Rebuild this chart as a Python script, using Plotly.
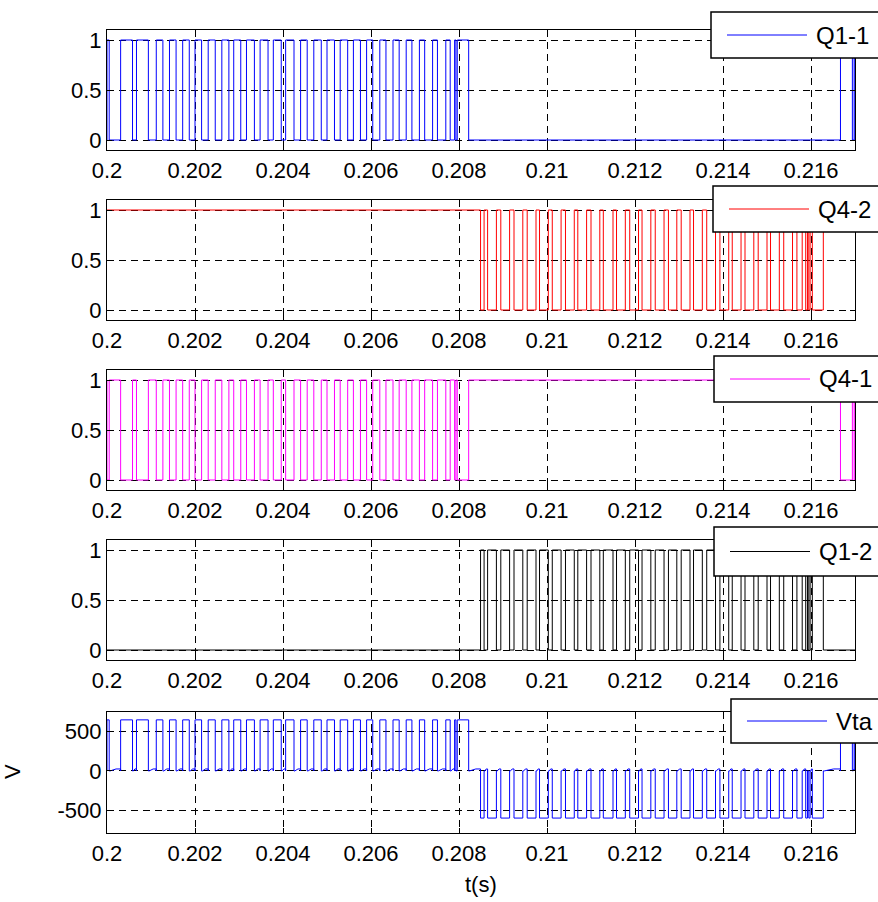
import plotly.graph_objects as go

# ---------------- data ----------------
t_start, t_end = 0.200, 0.217
x_tickvals = [0.200, 0.202, 0.204, 0.206, 0.208, 0.210, 0.212, 0.214, 0.216]
x_ticktext = ["0.2", "0.202", "0.204", "0.206", "0.208", "0.21", "0.212", "0.214", "0.216"]
y_tickvals_gate = [0, 0.5, 1]
y_ticktext_gate = ["0", "0.5", "1"]
y_tickvals_v = [-500, 0, 500]
y_ticktext_v = ["-500", "0", "500"]

# Q1-1 on-intervals (s)
q11_on = [
    (0.20000, 0.20005), (0.20031, 0.20058), (0.20067, 0.20094), (0.20112, 0.20127),
    (0.20142, 0.20157), (0.20172, 0.20187), (0.20200, 0.20215), (0.20230, 0.20246),
    (0.20261, 0.20277), (0.20288, 0.20304), (0.20317, 0.20335), (0.20348, 0.20366),
    (0.20378, 0.20396), (0.20406, 0.20425), (0.20440, 0.20455), (0.20470, 0.20487),
    (0.20500, 0.20517), (0.20530, 0.20547), (0.20560, 0.20576), (0.20590, 0.20604),
    (0.20620, 0.20634), (0.20650, 0.20664), (0.20680, 0.20693), (0.20710, 0.20722),
    (0.20740, 0.20751), (0.20770, 0.20780), (0.20790, 0.20793), (0.20796, 0.20822),
    (0.21667, 0.21694), (0.21698, 0.21700),
]
# Q1-2 on-intervals (s)
q12_on = [
    (0.20849, 0.20857), (0.20865, 0.20885), (0.20895, 0.20915), (0.20925, 0.20945),
    (0.20955, 0.20975), (0.20983, 0.21003), (0.21012, 0.21032), (0.21042, 0.21062),
    (0.21070, 0.21090), (0.21100, 0.21120), (0.21128, 0.21150), (0.21158, 0.21178),
    (0.21188, 0.21208), (0.21216, 0.21236), (0.21246, 0.21266), (0.21276, 0.21295),
    (0.21305, 0.21325), (0.21333, 0.21353), (0.21363, 0.21383), (0.21393, 0.21413),
    (0.21421, 0.21441), (0.21450, 0.21470), (0.21480, 0.21500), (0.21508, 0.21528),
    (0.21538, 0.21558), (0.21568, 0.21580), (0.21588, 0.21592), (0.21595, 0.21598),
    (0.21603, 0.21628),
]
gate_high, gate_low = 1.0, 0.0
vta_pos, vta_neg, vta_ripple = 650.0, -600.0, 25.0

names = ["Q1-1", "Q4-2", "Q4-1", "Q1-2", "Vta"]
colors = ["#0000FF", "#FF0000", "#FF00FF", "#000000", "#0000FF"]


def step_wave(on_list, on_val, off_val):
    xs, ys = [t_start], [off_val]
    for a, b in on_list:
        xs += [a, a, b, b]
        ys += [off_val, on_val, on_val, off_val]
    xs.append(t_end)
    ys.append(off_val)
    return xs, ys


def vta_wave():
    ev = [(a, b, vta_pos) for a, b in q11_on] + [(a, b, vta_neg) for a, b in q12_on]
    ev.sort()
    xs, ys = [t_start], [0.0]
    prev = t_start
    for a, b, lvl in ev:
        if a - prev > 0.00004:
            mid = prev + 0.6 * (a - prev)
            xs += [prev + 0.00002, mid, a]
            ys += [0.0, vta_ripple, vta_ripple]
        xs += [a, a, b, b]
        ys += [0.0, lvl, lvl, 0.0]
        prev = b
    xs.append(t_end)
    ys.append(0.0)
    return xs, ys


series = [
    step_wave(q11_on, gate_high, gate_low),
    step_wave(q12_on, gate_low, gate_high),
    step_wave(q11_on, gate_low, gate_high),
    step_wave(q12_on, gate_high, gate_low),
    vta_wave(),
]

# ---------------- layout ----------------
W, H = 878, 902
L, R, T, B = 107, 855, 30, 833
tops = [30, 200, 370, 540, 712]
bots = [150, 320, 490, 660, 833]
font = "Arial, 'Liberation Sans', sans-serif"
fsize = 22
lsize = 24

fig = go.Figure()
for i, (xs, ys) in enumerate(series):
    fig.add_trace(go.Scatter(x=xs, y=ys, mode="lines", name=names[i],
                             line=dict(color=colors[i], width=1),
                             xaxis=f"x{i+1}", yaxis=f"y{i+1}", showlegend=False,
                             hoverinfo="skip"))

layout = dict(width=W, height=H, margin=dict(l=L, r=W - R, t=T, b=H - B, pad=0),
              plot_bgcolor="white", paper_bgcolor="white",
              font=dict(family=font, size=fsize, color="black"))

for i in range(5):
    d0 = (B - bots[i]) / (B - T)
    d1 = (B - tops[i]) / (B - T)
    ax = dict(range=[t_start, t_end], tickvals=x_tickvals, ticktext=x_ticktext,
              showgrid=True, gridcolor="#000000", griddash="7px,5px", gridwidth=0.8,
              showline=True, linecolor="black", linewidth=1.2, mirror="ticks",
              ticks="inside", ticklen=5, tickcolor="black", zeroline=False,
              anchor=f"y{i+1}", domain=[0, 1],
              tickfont=dict(family=font, size=fsize, color="black"))
    if i == 4:
        yr = [-790, 750]
        yt, ytt = y_tickvals_v, y_ticktext_v
    else:
        yr = [-0.1, 1.1]
        yt, ytt = y_tickvals_gate, y_ticktext_gate
    ay = dict(range=yr, tickvals=yt, ticktext=ytt,
              showgrid=True, gridcolor="#000000", griddash="7px,5px", gridwidth=0.8,
              showline=True, linecolor="black", linewidth=1.2, mirror="ticks",
              ticks="inside", ticklen=5, tickcolor="black", zeroline=False,
              anchor=f"x{i+1}", domain=[d0, d1],
              tickfont=dict(family=font, size=fsize, color="black"))
    layout[f"xaxis{i+1 if i else ''}"] = ax
    layout[f"yaxis{i+1 if i else ''}"] = ay

fig.update_layout(**layout)


def px_x(p):
    return (p - L) / (R - L)


def px_y(p):
    return (B - p) / (B - T)


legend_boxes = [  # left, top, bottom (pixels)
    (711, 12, 58), (713, 186, 232), (714, 356, 402), (714, 527, 576), (731, 699, 743)
]
shapes, annos = [], []
for i, (lx, ty, by) in enumerate(legend_boxes):
    shapes.append(dict(type="rect", xref="paper", yref="paper",
                       x0=px_x(lx), x1=px_x(900), y0=px_y(by), y1=px_y(ty),
                       fillcolor="white", line=dict(color="black", width=1.5),
                       layer="above"))
    cy = (ty + by) / 2
    shapes.append(dict(type="line", xref="paper", yref="paper",
                       x0=px_x(lx + 16), x1=px_x(lx + 96), y0=px_y(cy), y1=px_y(cy),
                       line=dict(color=colors[i], width=1), layer="above"))
    annos.append(dict(xref="paper", yref="paper", x=px_x(lx + 103), y=px_y(cy),
                      text=names[i], showarrow=False, xanchor="left", yanchor="middle",
                      font=dict(family=font, size=lsize, color="black")))
annos.append(dict(xref="paper", yref="paper", x=px_x(12), y=px_y(772), text="V",
                  textangle=-90, showarrow=False, xanchor="center", yanchor="middle",
                  font=dict(family=font, size=fsize, color="black")))
annos.append(dict(xref="paper", yref="paper", x=px_x(481), y=px_y(884), text="t(s)",
                  showarrow=False, xanchor="center", yanchor="middle",
                  font=dict(family=font, size=fsize, color="black")))
fig.update_layout(shapes=shapes, annotations=annos)

fig.write_html("out.html")
